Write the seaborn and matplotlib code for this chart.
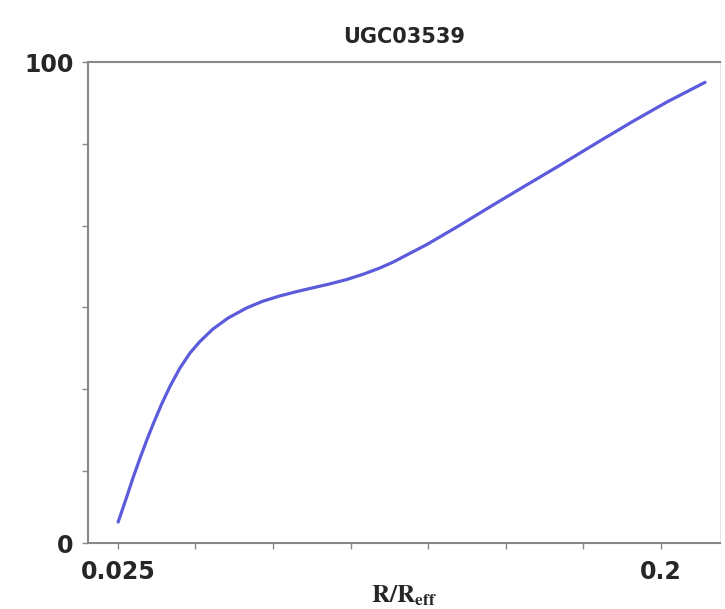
import numpy as np
import pandas as pd
import seaborn as sns
import matplotlib.pyplot as plt

# rotation curve
r_reff = [0.0251, 0.0278, 0.0299, 0.0321, 0.0343, 0.0364, 0.0391, 0.0418, 0.0450,
          0.0482, 0.0514, 0.0556, 0.0605, 0.0665, 0.0717, 0.0772, 0.0826, 0.0879,
          0.0933, 0.0987, 0.1040, 0.1094, 0.1136, 0.1246, 0.1352, 0.1459, 0.1568,
          0.1665, 0.1803, 0.1910, 0.2019, 0.2142]
velocity = [4.4, 9.5, 13.6, 17.6, 21.4, 24.8, 28.9, 32.6, 36.4,
            39.5, 41.9, 44.5, 46.8, 48.9, 50.3, 51.4, 52.3, 53.1,
            53.9, 54.8, 55.9, 57.2, 58.4, 62.1, 66.1, 70.3, 74.5,
            78.2, 83.6, 87.7, 91.7, 95.8]

x_ticks = [0.025, 0.05, 0.075, 0.1, 0.125, 0.15, 0.175, 0.2]
x_labels = ['0.025', '', '', '', '', '', '', '0.2']
y_ticks = [0, 15, 32, 49, 66, 83, 100]
y_labels = ['0', '', '', '', '', '', '100']

df = pd.DataFrame({'r': r_reff, 'v': velocity})

sns.set_style('white')
plt.rcParams['font.family'] = ['DejaVu Sans']
plt.rcParams['mathtext.fontset'] = 'stix'

fig = plt.figure(figsize=(7.25, 6.09), dpi=100)
ax = fig.add_axes([0.121, 0.108, 0.872, 0.79])

sns.lineplot(data=df, x='r', y='v', color='#5b5bdc', linewidth=2.3, ax=ax)

ax.set_xlim(0.0153, 0.219)
ax.set_ylim(0, 100)
ax.set_xticks(x_ticks)
ax.set_xticklabels(x_labels)
ax.set_yticks(y_ticks)
ax.set_yticklabels(y_labels)
ax.tick_params(axis='both', direction='out', length=4, width=1, color='#888888',
               labelsize=17, bottom=True, left=True)
ax.tick_params(axis='x', pad=8)
ax.tick_params(axis='y', pad=6)
for lab in ax.get_xticklabels() + ax.get_yticklabels():
    lab.set_fontweight('bold')

for side in ['left', 'bottom', 'top']:
    ax.spines[side].set_color('#888888')
    ax.spines[side].set_linewidth(1.5)
ax.spines['right'].set_color('#e4e4e4')

ax.set_title('UGC03539', fontsize=15, fontweight='bold', pad=14)
ax.set_xlabel(r'$\mathbf{R/R_{eff}}$', fontsize=18, labelpad=0)
ax.set_ylabel('')

fig.savefig('out.png', dpi=100)
plt.close(fig)
